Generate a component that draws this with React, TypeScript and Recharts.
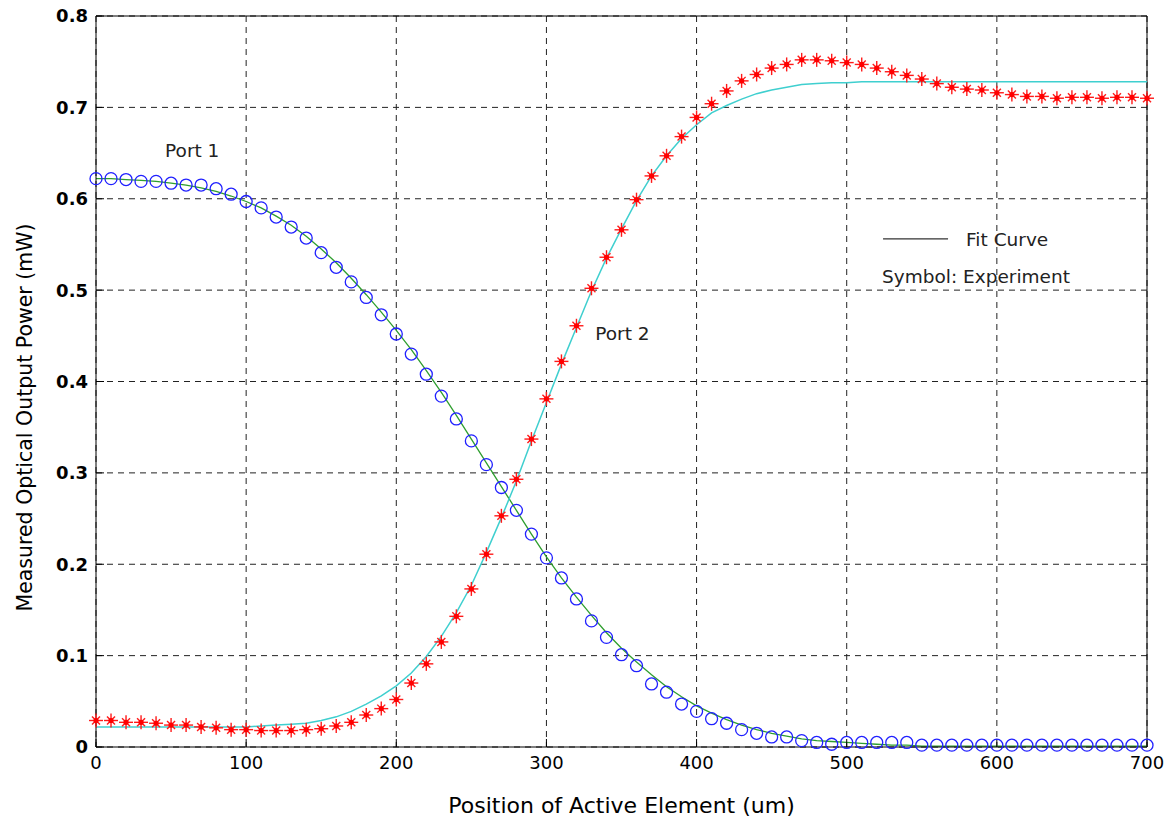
import React from 'react'
import { ComposedChart, Line, XAxis, YAxis, CartesianGrid, ReferenceLine, ReferenceDot } from 'recharts'

// positions of the active element (um)
const positions = [
  0, 10, 20, 30, 40, 50, 60, 70, 80, 90,
  100, 110, 120, 130, 140, 150, 160, 170, 180, 190,
  200, 210, 220, 230, 240, 250, 260, 270, 280, 290,
  300, 310, 320, 330, 340, 350, 360, 370, 380, 390,
  400, 410, 420, 430, 440, 450, 460, 470, 480, 490,
  500, 510, 520, 530, 540, 550, 560, 570, 580, 590,
  600, 610, 620, 630, 640, 650, 660, 670, 680, 690,
  700,
]

// Port 1 measured (circles)
const port1Exp = [
  0.622, 0.622, 0.621, 0.619, 0.619, 0.617, 0.615, 0.615, 0.611, 0.605,
  0.597, 0.59, 0.58, 0.569, 0.557, 0.541, 0.525, 0.509, 0.492, 0.473,
  0.452, 0.43, 0.408, 0.384, 0.359, 0.335, 0.309, 0.284, 0.259, 0.233,
  0.207, 0.185, 0.162, 0.138, 0.12, 0.101, 0.089, 0.069, 0.06, 0.047,
  0.039, 0.031, 0.026, 0.019, 0.015, 0.011, 0.011, 0.007, 0.005, 0.003,
  0.005, 0.005, 0.005, 0.005, 0.005, 0.002, 0.002, 0.002, 0.002, 0.002,
  0.002, 0.002, 0.002, 0.002, 0.002, 0.002, 0.002, 0.002, 0.002, 0.002,
  0.002,
]

// Port 1 fit curve
const port1Fit = [
  0.622, 0.622, 0.621, 0.62, 0.619, 0.617, 0.615, 0.612, 0.608, 0.603,
  0.597, 0.59, 0.581, 0.571, 0.559, 0.545, 0.53, 0.513, 0.495, 0.476,
  0.456, 0.435, 0.412, 0.388, 0.363, 0.337, 0.311, 0.285, 0.259, 0.233,
  0.208, 0.185, 0.164, 0.144, 0.125, 0.108, 0.093, 0.079, 0.066, 0.055,
  0.045, 0.037, 0.03, 0.024, 0.019, 0.015, 0.012, 0.009, 0.007, 0.006,
  0.005, 0.004, 0.003, 0.002, 0.002, 0.001, 0.001, 0.001, 0.001, 0.001,
  0.001, 0.001, 0.001, 0.001, 0.001, 0.001, 0.001, 0.001, 0.001, 0.001,
  0.001,
]

// Port 2 measured (stars)
const port2Exp = [
  0.029, 0.029, 0.027, 0.027, 0.026, 0.024, 0.024, 0.022, 0.021, 0.019,
  0.019, 0.018, 0.018, 0.018, 0.019, 0.02, 0.023, 0.027, 0.035, 0.042,
  0.052, 0.07, 0.091, 0.115, 0.143, 0.173, 0.211, 0.253, 0.293, 0.337,
  0.381, 0.422, 0.461, 0.502, 0.536, 0.566, 0.599, 0.625, 0.647, 0.668,
  0.689, 0.704, 0.718, 0.729, 0.736, 0.743, 0.747, 0.752, 0.752, 0.751,
  0.749, 0.747, 0.743, 0.739, 0.735, 0.731, 0.726, 0.722, 0.72, 0.719,
  0.716, 0.714, 0.712, 0.712, 0.71, 0.711, 0.711, 0.71, 0.711, 0.711,
  0.71,
]

// Port 2 fit curve
const port2Fit = [
  0.022, 0.022, 0.022, 0.022, 0.022, 0.022, 0.022, 0.022, 0.022, 0.022,
  0.022, 0.023, 0.024, 0.025, 0.026, 0.029, 0.033, 0.039, 0.047, 0.056,
  0.067, 0.081, 0.099, 0.121, 0.147, 0.177, 0.213, 0.251, 0.291, 0.335,
  0.377, 0.419, 0.459, 0.499, 0.535, 0.567, 0.598, 0.625, 0.647, 0.666,
  0.681, 0.694, 0.702, 0.709, 0.715, 0.719, 0.722, 0.725, 0.726, 0.727,
  0.727, 0.728, 0.728, 0.728, 0.728, 0.728, 0.728, 0.728, 0.728, 0.728,
  0.728, 0.728, 0.728, 0.728, 0.728, 0.728, 0.728, 0.728, 0.728, 0.728,
  0.728,
]

const xTicks = [0, 100, 200, 300, 400, 500, 600, 700]
const yTicks = [0, 0.1, 0.2, 0.3, 0.4, 0.5, 0.6, 0.7, 0.8]

const rows = positions.map((x, i) => ({
  x,
  p1: port1Exp[i],
  f1: port1Fit[i],
  p2: port2Exp[i],
  f2: port2Fit[i],
}))

const textFont = '"DejaVu Sans", sans-serif'
const noteStyle = { fill: '#222', fontSize: 18.5, fontFamily: textFont }

const Circle = (props: any) => {
  const { cx, cy, index } = props
  if (cx == null || cy == null) return <g key={`c${index}`} />
  return <circle key={`c${index}`} cx={cx} cy={cy} r={6} fill="none" stroke="#2020ff" strokeWidth={1.3} />
}

const Star = (props: any) => {
  const { cx, cy, index } = props
  if (cx == null || cy == null) return <g key={`s${index}`} />
  return (
    <g key={`s${index}`} stroke="#ff1a1a" strokeWidth={1.4}>
      <line x1={cx - 7} y1={cy} x2={cx + 7} y2={cy} />
      <line x1={cx} y1={cy - 7} x2={cx} y2={cy + 7} />
      <line x1={cx - 4} y1={cy - 4} x2={cx + 4} y2={cy + 4} />
      <line x1={cx - 4} y1={cy + 4} x2={cx + 4} y2={cy - 4} />
      <circle cx={cx} cy={cy} r={2.6} fill="#ff0000" stroke="none" />
    </g>
  )
}

const YLabel = (props: any) => {
  const vb = props.viewBox || {}
  const x = (vb.x ?? 0) + 25
  const y = (vb.y ?? 0) + (vb.height ?? 0) / 2 + 36
  return (
    <text
      x={x}
      y={y}
      transform={`rotate(-90, ${x}, ${y})`}
      textAnchor="middle"
      dominantBaseline="central"
      fill="#000"
      fontSize={20.5}
      fontFamily={textFont}
    >
      Measured Optical Output Power (mW)
    </text>
  )
}

export default function App() {
  return (
    <div style={{ position: 'absolute', left: 0, top: 0, background: '#fff' }}>
      <ComposedChart
        width={1165}
        height={818}
        data={rows}
        margin={{ top: 16, right: 18, bottom: 0, left: 0 }}
      >
        <CartesianGrid stroke="#222" strokeDasharray="6 5" />
        <XAxis
          dataKey="x"
          type="number"
          domain={[0, 700]}
          ticks={xTicks}
          height={71}
          stroke="#000"
          tickSize={-8}
          tickMargin={17}
          tick={{ fill: '#000', fontSize: 18, fontFamily: textFont }}
          label={{
            value: 'Position of Active Element (um)',
            position: 'insideBottom',
            offset: 5,
            style: { fill: '#000', fontSize: 22, fontFamily: textFont },
          }}
        />
        <YAxis
          type="number"
          domain={[0, 0.8]}
          ticks={yTicks}
          width={96}
          stroke="#000"
          tickSize={-8}
          tickMargin={16}
          tickFormatter={(v: number) => (v === 0 ? '0' : v.toFixed(1))}
          tick={{ fill: '#000', fontSize: 18, fontWeight: 'bold', fontFamily: textFont }}
          label={<YLabel />}
        />
        <ReferenceLine y={0.8} stroke="#000" />
        <ReferenceLine x={700} stroke="#000" />

        <Line dataKey="p1" stroke="none" isAnimationActive={false} dot={Circle} activeDot={false} />
        <Line dataKey="p2" stroke="none" isAnimationActive={false} dot={Star} activeDot={false} />
        <Line dataKey="f1" stroke="#2e9e2e" strokeWidth={1.3} dot={false} isAnimationActive={false} />
        <Line dataKey="f2" stroke="#3fcfcf" strokeWidth={1.5} dot={false} isAnimationActive={false} />

        <ReferenceLine
          segment={[{ x: 524.2, y: 0.556 }, { x: 567.5, y: 0.556 }]}
          stroke="#333"
          strokeWidth={1.3}
        />
        <ReferenceDot x={46} y={0.653} r={0} fill="none" stroke="none"
          label={{ value: 'Port 1', position: 'right', offset: 0, style: noteStyle }} />
        <ReferenceDot x={332.5} y={0.453} r={0} fill="none" stroke="none"
          label={{ value: 'Port 2', position: 'right', offset: 0, style: noteStyle }} />
        <ReferenceDot x={579.5} y={0.556} r={0} fill="none" stroke="none"
          label={{ value: 'Fit Curve', position: 'right', offset: 0, style: noteStyle }} />
        <ReferenceDot x={523.5} y={0.5145} r={0} fill="none" stroke="none"
          label={{ value: 'Symbol: Experiment', position: 'right', offset: 0, style: noteStyle }} />
      </ComposedChart>
    </div>
  )
}
